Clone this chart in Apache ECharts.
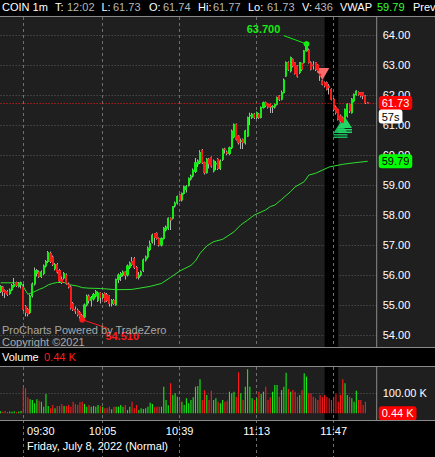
<!DOCTYPE html>
<html>
<head>
<meta charset="utf-8">
<title>COIN 1m</title>
<script src="https://cdn.jsdelivr.net/npm/echarts@6.0.0/dist/echarts.min.js"></script>
<style>
html, body { margin: 0; padding: 0; background: #000; }
#chart { width: 435px; height: 457px; }
</style>
</head>
<body>
<div id="chart"></div>
<script>
// one row per minute bar from 09:20: [open, close, low, high]
const ohlc = [
  [55.45,55.62,55.40,55.66],[55.60,55.45,55.30,55.63],[55.48,55.40,55.23,55.52],[55.45,55.35,55.30,55.50],
  [55.38,55.50,55.34,55.55],[55.50,55.65,55.46,55.70],[55.62,55.68,55.58,55.90],[55.75,55.65,55.60,55.78],
  [55.62,55.72,55.58,55.76],[55.68,55.75,55.55,55.78],
  [55.60,54.85,54.80,55.70],[54.95,54.75,54.62,55.00],[54.85,54.70,54.62,54.90],[54.75,55.30,54.70,55.35],
  [55.30,55.70,55.25,55.75],[55.70,56.15,55.65,56.25],[56.05,56.15,55.95,56.20],[56.10,55.95,55.90,56.15],
  [55.95,56.10,55.90,56.15],[56.05,56.30,56.00,56.35],[56.30,56.45,56.25,56.50],[56.45,56.75,56.40,56.80],
  [56.72,56.45,56.40,56.78],[56.60,56.35,56.30,56.65],[56.20,56.35,56.15,56.40],[56.35,56.10,56.05,56.40],
  [56.15,55.80,55.75,56.20],[55.85,55.75,55.70,55.95],[55.90,56.05,55.85,56.10],[56.00,55.72,55.68,56.05],
  [55.70,55.60,55.55,55.75],[55.60,54.90,54.85,55.65],[55.05,54.85,54.80,55.10],[54.85,54.80,54.70,54.95],
  [54.82,54.68,54.62,54.88],[54.75,54.62,54.55,54.80],[54.65,54.58,54.51,54.70],[54.60,55.00,54.56,55.05],
  [55.00,55.30,54.95,55.35],[55.30,55.15,55.05,55.35],[55.15,55.25,54.95,55.30],[55.20,55.35,55.15,55.40],
  [55.30,55.45,55.25,55.50],[55.15,55.40,55.10,55.45],[55.40,55.25,55.05,55.42],[55.25,55.35,55.20,55.40],
  [55.38,55.12,55.08,55.42],[55.35,55.15,55.10,55.40],[55.30,55.05,54.95,55.32],[55.05,55.15,54.95,55.20],
  [55.15,55.05,55.00,55.20],[55.00,55.85,54.98,55.88],[55.85,56.00,55.73,56.05],[55.95,56.05,55.80,56.10],
  [56.00,56.10,55.95,56.15],[56.10,55.98,55.85,56.12],[56.00,56.30,55.95,56.35],[56.25,56.40,56.20,56.45],
  [56.45,56.35,56.30,56.60],[56.55,56.25,56.20,56.60],[56.25,55.92,55.88,56.30],[55.92,56.00,55.85,56.10],
  [56.00,56.10,55.95,56.15],[56.15,56.50,56.10,56.55],[56.50,56.60,56.45,56.65],[56.60,56.90,56.55,56.95],
  [56.85,57.05,56.80,57.15],[57.10,57.33,57.05,57.38],[57.38,57.25,57.00,57.40],[57.39,57.22,57.18,57.42],
  [57.22,57.00,56.95,57.25],[57.00,57.22,56.95,57.25],[57.22,57.56,57.18,57.60],[57.50,57.60,57.45,57.65],
  [57.56,57.89,57.50,57.92],[57.89,57.83,57.50,57.92],[57.89,58.28,57.85,58.30],[58.30,58.40,58.25,58.45],
  [58.40,58.61,58.35,58.65],[58.67,58.50,58.45,58.70],[58.50,58.72,58.45,58.75],[58.72,58.94,58.68,58.98],
  [58.85,58.95,58.75,59.00],[58.98,59.22,58.95,59.25],[59.20,59.30,59.15,59.35],[59.30,59.50,59.25,59.55],
  [59.45,59.74,59.40,59.90],[59.70,59.80,59.60,59.85],[59.74,60.08,59.70,60.16],[60.16,59.74,59.70,60.20],
  [59.74,59.41,59.35,59.78],[59.41,59.86,59.38,59.90],[59.86,59.70,59.55,59.90],[59.91,59.63,59.58,59.95],
  [59.47,59.80,59.42,59.85],[59.70,59.72,59.50,59.80],[59.86,59.55,59.50,59.90],[59.55,59.80,59.50,59.85],
  [59.86,60.19,59.80,60.22],[60.20,60.18,60.05,60.24],[60.10,60.05,60.00,60.15],[60.05,60.24,60.00,60.28],
  [60.24,60.80,60.20,60.85],[60.60,61.02,60.55,61.05],[61.02,60.52,60.48,61.05],[60.63,60.41,60.35,60.66],
  [60.45,60.47,60.20,60.55],[60.52,60.41,60.20,60.55],[60.41,60.80,60.35,60.84],[60.63,61.25,60.60,61.28],
  [61.30,61.32,61.00,61.41],[61.25,61.36,61.20,61.40],[61.36,61.25,61.20,61.40],[61.25,61.41,61.20,61.45],
  [61.36,61.25,61.20,61.40],[61.25,61.58,61.22,61.62],[61.58,61.74,61.55,61.78],[61.74,61.65,61.60,61.78],
  [61.69,61.60,61.55,61.72],[61.69,61.60,61.40,61.72],[61.60,61.62,61.40,61.66],[61.60,61.69,61.55,61.72],
  [61.69,61.91,61.65,61.95],[61.97,61.86,61.80,62.00],[61.86,62.08,61.82,62.15],[62.08,62.50,62.05,62.55],
  [62.63,63.08,62.60,63.12],[63.08,62.85,62.80,63.12],[62.80,63.25,62.75,63.28],[63.19,62.97,62.92,63.22],
  [63.08,62.72,62.68,63.10],[62.97,62.63,62.58,63.00],[62.75,63.08,62.70,63.10],[63.05,62.86,62.80,63.08],
  [63.08,63.47,63.05,63.50],[63.47,63.67,63.45,63.70],[63.50,63.08,63.05,63.55],[63.08,62.86,62.82,63.12],
  [63.00,62.98,62.85,63.13],[63.08,62.86,62.80,63.10],[63.00,62.80,62.75,63.02],[62.70,62.65,62.47,62.80],
  [62.47,62.36,62.32,62.50],[62.41,62.30,62.25,62.45],[62.41,62.19,62.15,62.45],[62.30,62.25,62.02,62.36],
  [62.19,61.86,61.82,62.22],[61.86,61.52,61.45,61.90],[61.60,61.41,61.35,61.65],[61.52,61.19,61.15,61.55],
  [61.30,61.13,61.05,61.35],[61.24,61.08,61.00,61.28],[61.13,61.52,61.10,61.55],[61.30,61.69,61.25,61.72],
  [61.69,61.47,61.40,61.72],[61.41,61.86,61.38,61.90],[61.80,62.02,61.75,62.05],[62.02,62.13,61.98,62.16],
  [62.08,62.02,61.98,62.12],[62.08,61.97,61.92,62.10],[62.08,61.97,61.86,62.10],[61.97,61.74,61.70,62.00],
  [61.74,61.73,61.73,61.77]
];

// volume per bar, thousands
const volumes = [
  10,8,12,6,9,8,10,7,9,11,
  128,125,80,70,67,50,70,63,58,33,
  97,37,25,42,25,37,37,47,37,37,
  42,33,58,47,42,55,58,47,33,42,
  33,37,33,42,37,33,25,25,33,20,
  33,33,33,42,33,42,17,33,58,25,
  42,17,25,22,25,33,53,47,30,33,
  33,33,133,67,40,150,92,100,83,67,
  58,42,75,50,67,80,133,137,170,67,
  115,92,67,113,67,75,58,50,67,58,
  63,108,100,108,83,205,100,67,133,220,
  133,75,67,75,108,97,108,133,67,80,
  108,142,142,83,117,133,203,122,108,117,
  108,83,92,117,200,183,100,100,83,75,
  67,92,80,92,83,75,67,83,100,58,
  92,170,150,92,83,75,58,113,67,67,
  42,58,0.436
];

// VWAP read at these bar indexes
const vwapIdx = [0,9,10,12,14,17,19,21,23,25,28,29,31,34,36,39,44,51,58,66,71,75,79,84,86,88,91,94,98,103,106,109,112,117,119,121,124,128,130,134,136,139,145,151,156,162];
const vwapVal = [55.74,55.74,55.61,55.36,55.41,55.52,55.58,55.67,55.72,55.75,55.75,55.71,55.67,55.63,55.58,55.56,55.55,55.51,55.52,55.62,55.72,55.92,56.13,56.32,56.47,56.72,56.97,57.11,57.19,57.44,57.67,57.83,58.00,58.17,58.28,58.33,58.52,58.78,58.94,59.11,59.33,59.39,59.60,59.69,59.74,59.79];

const labelTimes = ['09:30', '10:05', '10:39', '11:13', '11:47'];
const priceTicks = [54, 55, 56, 57, 58, 59, 60, 61, 62, 63, 64];
const volTicks = [100];

const tradeTimes = ['11:42', '11:50', '11:52'];
const tradePrices = [62.70, 60.83, 61.00];
const tradeSides = ['sell', 'buy', 'buy'];

const bandTimes = ['11:43', '11:49'];
const countdown = '57s';

// minute categories 09:20 .. 12:06
const times = [];
for (let k = 0; k < 167; k++) {
  const m = 9 * 60 + 20 + k;
  times.push(String(Math.floor(m / 60)).padStart(2, '0') + ':' + String(m % 60).padStart(2, '0'));
}

const FONT = '"Liberation Sans", Arial, sans-serif';
const GREEN = '#14ec14';
const RED = '#ff1a1a';
const WICK = '#b4b4b4';
const GRID_LINE = '#5e5e5e';
const BORDER = '#8a8a8a';
const CLEAR = 'rgba(0,0,0,0)';

const last = ohlc.length - 1;
const lastBar = ohlc[last];
const lastVwap = vwapVal[vwapVal.length - 1];
const lastVol = volumes[last];

let hiIdx = 0, loIdx = 0;
ohlc.forEach((r, i) => {
  if (r[3] > ohlc[hiIdx][3]) hiIdx = i;
  if (r[2] < ohlc[loIdx][2]) loIdx = i;
});

const labelIdx = labelTimes.map(t => times.indexOf(t));
const showAt = (i) => labelIdx.indexOf(i) >= 0;

const bodyData = ohlc.map(r => [r[0], r[1], Math.min(r[0], r[1]), Math.max(r[0], r[1])]);
const volData = volumes.map((v, i) => ({
  value: v,
  itemStyle: { color: ohlc[i][1] >= ohlc[i][0] ? GREEN : RED }
}));
const vwapData = vwapIdx.map((k, i) => [k, vwapVal[i]]);

const BUY_PATH = 'path://M7,0L14,11L0,11Z M0,12L14,12L14,13.5L0,13.5Z M0,14.5L14,14.5L14,16L0,16Z';
const SELL_PATH = 'path://M0,0L14,0L7,11Z';
const tradePoints = tradeTimes.map((t, i) => ({
  coord: [t, tradePrices[i]],
  symbol: tradeSides[i] === 'buy' ? BUY_PATH : SELL_PATH,
  symbolSize: tradeSides[i] === 'buy' ? [14, 16] : [14, 12],
  itemStyle: { color: tradeSides[i] === 'buy' ? (i === 1 ? '#17b85a' : '#22d668') : '#ff6a6a' },
  label: { show: false }
}));

const GREY_TXT = '#b8b8b8';
const header = [
  ['COIN 1m', 2, '#fff'], ['T:', 55, '#fff'], [times[last], 67, GREY_TXT],
  ['L:', 101.5, '#fff'], [lastBar[1].toFixed(2), 113, GREY_TXT],
  ['O:', 149, '#fff'], [lastBar[0].toFixed(2), 163, GREY_TXT],
  ['Hi:', 198, '#fff'], [lastBar[3].toFixed(2), 213, GREY_TXT],
  ['Lo:', 248, '#fff'], [lastBar[2].toFixed(2), 267, GREY_TXT],
  ['V:', 302, '#fff'], [String(Math.round(lastVol * 1000)), 314.5, GREY_TXT],
  ['VWAP', 340, '#fff'], [lastVwap.toFixed(2), 377, '#33ff33'], ['Prev', 413, '#fff']
];

function txt(text, left, top, color) {
  return {
    text: text, left: left, top: top, padding: 0,
    textStyle: { fontSize: 11, fontWeight: 'normal', color: color, fontFamily: FONT }
  };
}

const titles = header.map(h => txt(h[0], h[1], 1, h[2]));
titles.push(txt('Volume', 2, 351, '#fff'));
titles.push(txt(lastVol.toFixed(2) + ' K', 44, 351, RED));
titles.push(txt('ProCharts Powered by TradeZero', 2, 324, '#a8a8a8'));
titles.push(txt('Copyright \u00a92021', 2, 336.5, '#a8a8a8'));
titles.push(txt('Friday, July 8, 2022 (Normal)', 27, 440.5, '#fff'));

const boxLabel = (text, bg, fg) => ({
  show: true, position: 'end', distance: 2, formatter: text,
  backgroundColor: bg, color: fg, padding: [2, 3, 1, 3], borderRadius: 3,
  fontSize: 11, fontFamily: FONT
});

const xAxisBase = (gi, withLabels) => ({
  type: 'category', gridIndex: gi, data: times, boundaryGap: false, z: 2,
  axisLine: { show: false }, axisTick: { show: false },
  axisLabel: withLabels ? {
    show: true, interval: showAt, margin: 5, color: '#fff', fontSize: 11, fontFamily: FONT,
    formatter: v => v === labelTimes[0] ? '{first|' + v + '}' : v,
    rich: { first: { padding: [0, 0, 0, 35], color: '#fff', fontSize: 11, fontFamily: FONT } }
  } : { show: false },
  splitLine: { show: true, interval: showAt, lineStyle: { color: '#6e6e6e', type: [3, 3], width: 1 } }
});

const chart = echarts.init(document.getElementById('chart'), null, { renderer: 'svg' });

const option = {
  animation: false,
  backgroundColor: '#000',
  title: titles,
  grid: [
    { left: 0.64, top: 17, width: 376.1, height: 330 },
    { left: 0.64, top: 367, width: 376.1, height: 53 },
    { left: 0.64, top: 420, width: 376.1, height: 37 }
  ],
  xAxis: [xAxisBase(0, false), xAxisBase(1, true), xAxisBase(2, false)],
  yAxis: [
    {
      type: 'value', gridIndex: 0, position: 'right', min: 53.6, max: 64.6,
      axisLine: { show: false },
      axisTick: { show: false, customValues: priceTicks },
      axisLabel: { customValues: priceTicks, formatter: v => v.toFixed(2), color: '#fff', fontSize: 11, fontFamily: FONT, margin: 6 },
      splitLine: { show: true, lineStyle: { color: GRID_LINE, type: [1, 2] } }
    },
    {
      type: 'value', gridIndex: 1, position: 'right', min: -33.5, max: 231.5,
      axisLine: { show: false },
      axisTick: { show: false, customValues: volTicks },
      axisLabel: { customValues: volTicks, formatter: v => v.toFixed(2) + ' K', color: '#fff', fontSize: 11, fontFamily: FONT, margin: 6 },
      splitLine: { show: true, lineStyle: { color: GRID_LINE, type: [1, 2] } }
    },
    { type: 'value', gridIndex: 2, min: 0, max: 1, show: false }
  ],
  graphic: [
    { type: 'rect', shape: { x: 0, y: 17, width: 435, height: 330.5 }, style: { fill: '#1f1f1f' }, z: -10, silent: true },
    { type: 'rect', shape: { x: 0, y: 367, width: 435, height: 53 }, style: { fill: '#1f1f1f' }, z: -10, silent: true },
    { type: 'line', shape: { x1: 0, y1: 16.5, x2: 435, y2: 16.5 }, style: { stroke: BORDER, lineWidth: 1 }, z: 10, silent: true },
    { type: 'line', shape: { x1: 0, y1: 347.5, x2: 435, y2: 347.5 }, style: { stroke: BORDER, lineWidth: 1 }, z: 10, silent: true },
    { type: 'line', shape: { x1: 0, y1: 366.5, x2: 435, y2: 366.5 }, style: { stroke: BORDER, lineWidth: 1 }, z: 10, silent: true },
    { type: 'line', shape: { x1: 0, y1: 420.5, x2: 435, y2: 420.5 }, style: { stroke: BORDER, lineWidth: 1 }, z: 10, silent: true },
    { type: 'line', shape: { x1: 376.7, y1: 17, x2: 376.7, y2: 347 }, style: { stroke: BORDER, lineWidth: 1 }, z: 10, silent: true },
    { type: 'line', shape: { x1: 376.7, y1: 367, x2: 376.7, y2: 420 }, style: { stroke: BORDER, lineWidth: 1 }, z: 10, silent: true }
  ],
  series: [
    {
      name: 'band', type: 'line', xAxisIndex: 0, yAxisIndex: 0, data: [], z: 1, silent: true,
      markArea: { silent: true, itemStyle: { color: '#000' }, data: [[{ xAxis: bandTimes[0] }, { xAxis: bandTimes[1] }]] }
    },
    {
      name: 'bandVol', type: 'line', xAxisIndex: 1, yAxisIndex: 1, data: [], z: 1, silent: true,
      markArea: { silent: true, itemStyle: { color: '#000' }, data: [[{ xAxis: bandTimes[0] }, { xAxis: bandTimes[1] }]] }
    },
    {
      name: 'VWAP', type: 'line', xAxisIndex: 0, yAxisIndex: 0, data: vwapData, z: 3,
      symbol: 'none', lineStyle: { color: '#2ee02e', width: 1 },
      markLine: {
        silent: true, symbol: ['none', 'none'],
        data: [{ yAxis: lastVwap, lineStyle: { color: CLEAR }, label: boxLabel(lastVwap.toFixed(2), '#00ff00', '#000') }]
      }
    },
    {
      name: 'wicks', type: 'candlestick', xAxisIndex: 0, yAxisIndex: 0, data: ohlc, z: 4,
      barWidth: 1.6,
      itemStyle: { color: WICK, color0: WICK, borderColor: WICK, borderColor0: WICK, borderWidth: 1 }
    },
    {
      name: 'COIN', type: 'candlestick', xAxisIndex: 0, yAxisIndex: 0, data: bodyData, z: 5,
      barWidth: 1.6,
      itemStyle: { color: GREEN, color0: RED, borderColor: GREEN, borderColor0: RED, borderWidth: 1 },
      markLine: {
        silent: true, symbol: ['none', 'none'],
        data: [
          [{ coord: [times[hiIdx], ohlc[hiIdx][3]], lineStyle: { color: GREEN, type: 'solid', width: 1 }, label: { show: false } }, { x: 284, y: 35.7 }],
          [{ coord: [times[loIdx], ohlc[loIdx][2]], lineStyle: { color: RED, type: 'solid', width: 1 }, label: { show: false } }, { x: 107, y: 328 }],
          { yAxis: lastBar[1], lineStyle: { color: RED, type: [1, 2], width: 1 }, label: boxLabel(lastBar[1].toFixed(2), '#ff0000', '#fff') },
          { yAxis: lastBar[1] - 0.45, lineStyle: { color: CLEAR }, label: boxLabel(countdown, '#fff', '#000') }
        ]
      },
      markPoint: {
        silent: true,
        data: tradePoints.concat([
          {
            coord: [times[hiIdx], ohlc[hiIdx][3]], symbol: 'circle', symbolSize: 6, itemStyle: { color: GREEN },
            label: { show: true, position: 'inside', offset: [-43, -15], formatter: ohlc[hiIdx][3].toFixed(3), color: GREEN, fontWeight: 'bold', fontSize: 11, fontFamily: FONT }
          },
          {
            coord: [times[loIdx], ohlc[loIdx][2]], symbol: 'circle', symbolSize: 6, itemStyle: { color: RED },
            label: { show: true, position: 'inside', offset: [40, 16], formatter: ohlc[loIdx][2].toFixed(3), color: RED, fontWeight: 'bold', fontSize: 11, fontFamily: FONT }
          }
        ])
      }
    },
    {
      name: 'Volume', type: 'bar', xAxisIndex: 1, yAxisIndex: 1, data: volData, z: 4,
      barWidth: 1.1,
      markLine: {
        silent: true, symbol: ['none', 'none'],
        data: [{ yAxis: lastVol, lineStyle: { color: CLEAR }, label: boxLabel(lastVol.toFixed(2) + ' K', '#ff0000', '#fff') }]
      }
    }
  ]
};

chart.setOption(option);
</script>
</body>
</html>
